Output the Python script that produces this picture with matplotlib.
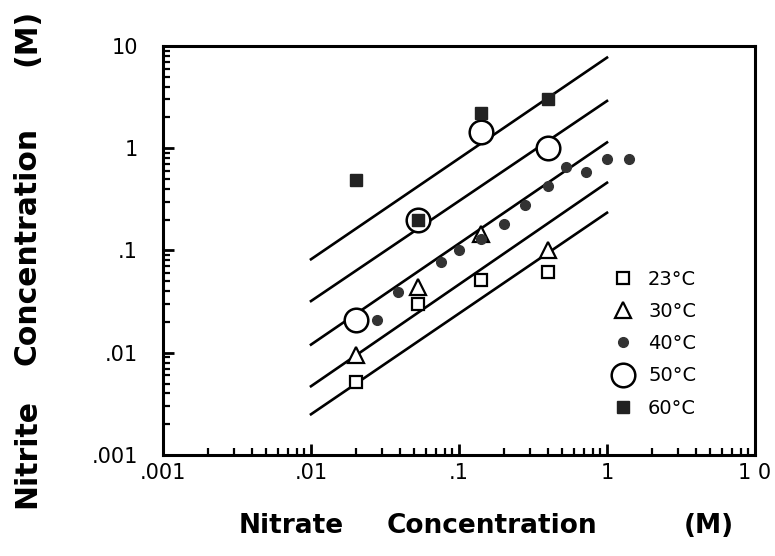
import matplotlib
matplotlib.use("Agg")
import matplotlib.pyplot as plt
from matplotlib.ticker import LogLocator, NullFormatter, FixedLocator

# ---- data ----
x23 = [0.02, 0.053, 0.14, 0.4]
y23 = [0.0052, 0.030, 0.051, 0.061]

x30 = [0.02, 0.053, 0.14, 0.4]
y30 = [0.0095, 0.044, 0.145, 0.10]

x40 = [0.028, 0.039, 0.075, 0.10, 0.14, 0.20, 0.28, 0.40, 0.53, 0.72, 1.0, 1.4]
y40 = [0.021, 0.039, 0.077, 0.10, 0.13, 0.18, 0.28, 0.43, 0.66, 0.58, 0.79, 0.79]

x50 = [0.02, 0.053, 0.14, 0.4]
y50 = [0.021, 0.20, 1.45, 1.0]

x60 = [0.02, 0.053, 0.14, 0.4]
y60 = [0.49, 0.20, 2.2, 3.0]

# fitted lines (start at x=0.01, end at x=1)
line_x = [0.01, 1.0]
line_start = [0.082, 0.032, 0.012, 0.0047, 0.0025]
line_end = [7.7, 2.9, 1.14, 0.46, 0.234]

tick_vals = [0.001, 0.01, 0.1, 1, 10]
x_tick_labels = [".001", ".01", ".1", "1", "1 0"]
y_tick_labels = [".001", ".01", ".1", "1", "10"]

fig = plt.figure(figsize=(7.75, 5.56), dpi=100)
ax = fig.add_axes([0.2103, 0.1817, 0.7639, 0.7356])
ax.set_xscale("log")
ax.set_yscale("log")
ax.set_xlim(0.001, 10)
ax.set_ylim(0.001, 10)

for y0, y1 in zip(line_start, line_end):
    ax.plot(line_x, [y0, y1], color="black", lw=1.9, zorder=2)

ax.plot(x23, y23, ls="none", marker="s", ms=8, mfc="white", mec="black", mew=1.6,
        label="23°C", zorder=3)
ax.plot(x30, y30, ls="none", marker="^", ms=11, mfc="white", mec="black", mew=1.6,
        label="30°C", zorder=3)
ax.plot(x40, y40, ls="none", marker="o", ms=7, mfc="#333333", mec="#333333",
        label="40°C", zorder=3)
ax.plot(x50, y50, ls="none", marker="o", ms=17, mfc="white", mec="black", mew=1.8,
        label="50°C", zorder=3)
ax.plot(x60, y60, ls="none", marker="s", ms=9, mfc="#222222", mec="#222222",
        label="60°C", zorder=4)

for s in ax.spines.values():
    s.set_linewidth(2.2)

ax.xaxis.set_major_locator(FixedLocator(tick_vals))
ax.yaxis.set_major_locator(FixedLocator(tick_vals))
ax.xaxis.set_minor_locator(LogLocator(base=10, subs=range(2, 10), numticks=20))
ax.yaxis.set_minor_locator(LogLocator(base=10, subs=range(2, 10), numticks=20))
ax.xaxis.set_minor_formatter(NullFormatter())
ax.yaxis.set_minor_formatter(NullFormatter())
ax.set_xticklabels(x_tick_labels)
ax.set_yticklabels(y_tick_labels)
ax.tick_params(which="major", direction="in", length=8, width=2, labelsize=15)
ax.tick_params(which="minor", direction="in", length=5, width=1.6)
ax.tick_params(axis="y", which="major", pad=18)
ax.tick_params(axis="x", which="major", pad=6)

leg = ax.legend(loc="upper left", bbox_to_anchor=(0.757, 0.453), frameon=False,
                fontsize=14, labelspacing=0.68, handlelength=1.2, handletextpad=0.7,
                borderpad=0, borderaxespad=0)

# axis titles, word by word to keep the wide spacing of the original
W, H = 775.0, 556.0
for word, xc in [("Nitrate", 291), ("Concentration", 492), ("(M)", 709)]:
    fig.text(xc / W, 1 - 526 / H, word, ha="center", va="center",
             fontsize=19, fontweight="bold")
for word, yc in [("Nitrite", 453), ("Concentration", 246), ("(M)", 37)]:
    fig.text(27 / W, 1 - yc / H, word, ha="center", va="center", rotation=90,
             fontsize=21.5, fontweight="bold")

fig.savefig("out.png", dpi=100)
